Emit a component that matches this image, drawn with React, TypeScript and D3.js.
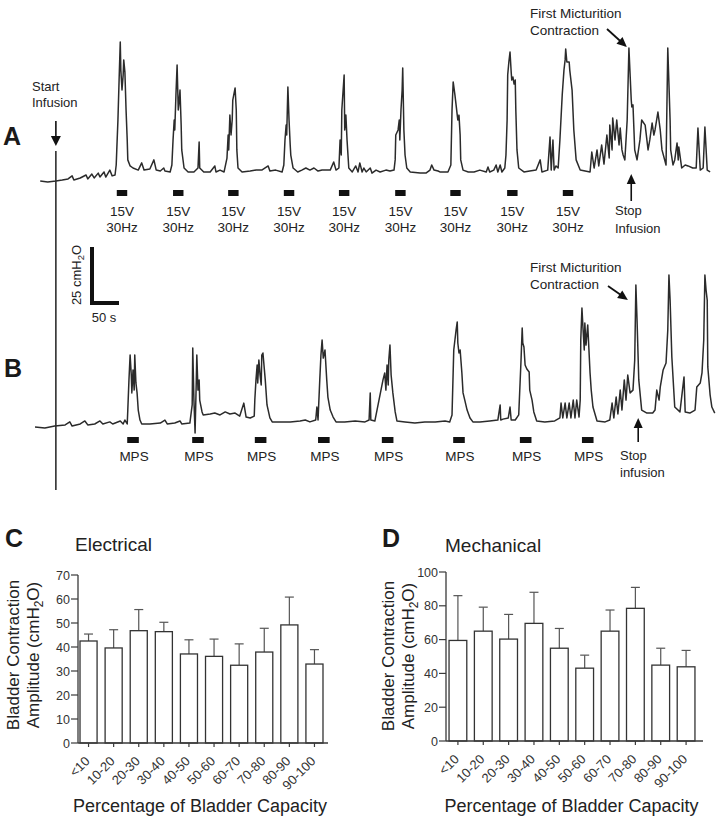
import React from "react";
import * as d3 from "d3";

const FONT = "'Liberation Sans', Arial, Helvetica, sans-serif";

// ---- Cystometry traces: [time (s), pressure (cmH2O)] ----
const traceA: [number, number][] = [
  [9,0],[22,-0.4],[36,0],[47,0.4],[57,0.9],[64,2.2],[67,0.4],[78,1.3],[88,2.6],[91,0.9],[98,3.0],[102,1.3],[109,3.4],[112,1.7],[119,3.9],[122,1.7],[129,4.7],[133,2.2],[138,2.6],
  [140,6.9],[141,13.4],[143,26.3],[145,43.5],[147,59.9],[148,47.8],[150,39.2],[152,45.7],[153,52.2],[155,47.0],[157,30.6],[159,17.7],[160,9.1],[164,6.5],[169,5.6],[178,4.7],[184,7.8],[188,4.7],[198,5.2],[205,9.1],[209,4.7],[216,4.3],[222,5.6],[224,4.3],
  [233,3.9],[236,6.9],[238,17.7],[240,26.3],[241,22.0],[243,37.1],[245,50.0],[247,30.6],[248,32.8],[250,39.2],[252,24.1],[253,13.4],[257,5.6],[264,3.9],[274,3.9],[281,5.6],[283,16.8],[284,5.6],[291,3.9],[302,3.9],[310,6.5],[312,3.9],[319,4.7],
  [326,3.9],[331,9.9],[333,19.8],[334,13.4],[336,28.4],[338,19.8],[340,26.3],[341,34.9],[345,40.1],[347,30.6],[348,13.4],[350,5.6],[357,3.9],[371,4.3],[381,4.7],[391,4.7],[402,6.5],[405,4.3],[415,4.7],[426,3.9],
  [429,6.9],[431,17.7],[433,24.1],[434,19.8],[436,40.5],[438,26.3],[440,15.5],[441,11.2],[445,5.6],[453,3.9],[460,4.7],[467,5.6],[474,4.7],[481,5.6],[488,4.3],[495,4.7],[509,4.7],[515,8.2],[519,4.7],
  [524,5.6],[526,17.7],[528,11.2],[529,30.6],[533,45.7],[534,22.0],[536,28.4],[538,17.7],[541,5.6],[547,3.9],[553,6.5],[557,3.9],[560,7.8],[564,3.9],[567,5.6],[571,3.9],[578,5.6],[581,3.4],[588,4.7],[595,3.9],[605,4.7],[612,4.3],[619,4.7],
  [621,9.1],[622,19.8],[626,22.0],[628,26.3],[629,17.7],[631,30.6],[633,39.2],[634,48.7],[636,22.0],[638,11.2],[641,5.6],[647,3.9],[664,3.4],[674,3.4],[681,4.7],[684,6.9],[688,4.7],[695,4.3],[698,3.9],[709,3.9],
  [712,3.9],[717,6.9],[719,30.6],[721,42.7],[724,37.1],[726,32.8],[728,28.4],[729,26.3],[731,28.4],[733,19.8],[734,9.1],[738,4.7],[747,3.9],[757,3.9],[767,4.7],[778,3.9],[781,6.0],[784,3.9],[791,4.7],[795,6.9],[798,3.9],[802,6.9],[805,3.9],
  [810,5.6],[812,11.2],[814,26.3],[815,45.7],[817,51.3],[819,55.6],[821,47.0],[822,43.5],[824,44.8],[826,41.8],[828,43.5],[829,30.6],[831,13.4],[834,5.6],[843,3.9],[853,4.3],[864,4.7],[871,9.1],[874,3.9],[884,4.7],[888,19.0],[890,4.7],[893,17.7],[895,4.7],[898,6.5],
  [902,5.6],[905,17.7],[909,37.1],[912,47.8],[914,52.2],[915,56.9],[917,51.3],[921,51.3],[922,47.8],[926,39.2],[929,22.0],[933,9.1],[940,4.7],[957,3.9],
  [960,12.5],[964,5.6],[969,13.4],[972,6.5],[977,15.5],[981,7.3],[986,19.8],[990,9.9],[991,24.1],[995,13.4],[996,27.2],[1000,17.7],[1003,26.3],[1007,15.5],[1009,22.8],[1012,13.4],[1014,11.2],[1017,9.1],[1021,26.3],[1024,57.3],[1028,34.9],[1029,31.9],[1031,32.8],[1034,13.4],[1038,9.1],[1043,17.7],[1046,26.3],[1052,24.1],[1057,13.4],[1060,17.7],[1064,25.0],[1067,19.8],[1069,22.0],[1074,29.7],[1078,22.0],[1081,13.4],[1088,6.9],[1091,57.3],[1095,26.3],[1096,13.4],[1100,6.9],[1103,9.1],[1107,16.4],[1109,9.1],[1110,14.7],[1115,5.6],[1121,6.9],[1126,6.5],[1134,5.6],[1140,5.6],[1143,22.8],[1147,4.7],[1152,5.6],[1155,23.3],[1159,4.7],[1164,3.9],
];

const traceB: [number, number][] = [
  [0,0],[17,-0.4],[34,0.4],[52,0.9],[60,2.2],[64,0.4],[78,1.3],[86,2.6],[91,0.9],[103,1.3],[112,2.6],[117,1.3],[129,2.2],[134,1.3],[147,2.6],[152,1.3],[155,3.0],[159,1.3],
  [160,7.3],[162,20.3],[164,31.0],[166,22.4],[167,14.7],[169,24.6],[171,15.9],[172,31.0],[174,19.0],[176,14.7],[178,7.3],[181,3.0],[184,1.3],[198,1.3],[216,1.7],[224,3.0],[228,1.3],[241,1.7],[250,2.6],[253,1.3],[267,1.7],
  [271,9.5],[272,34.0],[274,11.6],[276,-2.6],[278,19.0],[279,31.0],[281,15.9],[283,20.3],[284,11.6],[288,6.5],[290,5.2],[302,5.6],[310,6.0],[319,5.2],[328,6.5],[336,5.6],[345,6.0],[353,4.7],[360,10.3],[364,4.3],[371,3.9],[378,4.7],
  [379,11.6],[381,20.3],[383,26.7],[384,19.0],[386,28.9],[388,22.4],[390,18.1],[391,31.0],[393,31.9],[397,20.3],[400,9.5],[405,3.9],[409,2.2],[422,2.2],[440,2.2],[457,2.6],[466,3.0],[474,2.2],[484,3.0],[486,8.6],[488,3.0],
  [491,20.3],[493,31.0],[495,37.5],[497,29.7],[500,33.2],[503,20.3],[505,12.9],[509,7.3],[514,4.3],[519,2.2],[534,2.2],[552,2.6],[569,2.2],[576,3.0],[578,14.7],[579,3.0],[586,2.6],
  [600,20.3],[603,23.3],[605,15.9],[607,26.7],[609,18.1],[610,28.9],[612,35.3],[614,22.4],[617,14.7],[621,6.5],[624,2.6],[638,2.2],[655,1.7],[672,2.2],[690,2.2],[707,2.6],[715,2.2],
  [719,5.2],[722,33.2],[726,41.8],[728,45.3],[729,36.2],[731,31.9],[733,33.2],[736,23.3],[738,14.7],[741,11.6],[745,7.3],[750,3.9],[755,2.2],[767,2.2],[784,2.6],[798,3.0],[802,9.5],[803,3.0],[807,3.4],[816,3.9],[819,8.6],[821,3.0],[828,3.0],
  [834,5.2],[838,28.9],[840,42.7],[841,36.2],[843,34.5],[845,26.7],[848,25.0],[852,23.7],[853,15.9],[857,11.6],[860,6.5],[865,2.6],[879,2.2],[896,2.6],
  [905,3.9],[907,10.3],[910,3.9],[914,10.3],[917,3.9],[921,10.3],[924,3.9],[928,11.6],[931,3.9],[934,11.6],[938,4.3],
  [940,11.6],[941,37.5],[943,51.3],[945,41.8],[947,33.2],[948,44.8],[950,35.3],[953,44.0],[957,23.3],[959,15.9],[962,8.6],[969,2.6],[983,2.2],
  [991,3.0],[995,10.3],[998,3.9],[1002,12.9],[1005,5.6],[1009,15.9],[1012,7.3],[1016,20.3],[1019,11.6],[1022,22.4],[1026,14.7],[1031,15.9],[1034,28.9],[1036,61.2],[1038,46.1],[1041,20.3],[1046,7.3],[1055,6.0],[1065,6.0],[1069,7.3],[1072,15.9],[1076,11.6],[1078,17.2],[1083,24.6],[1088,27.6],[1091,41.8],[1093,65.5],[1095,54.7],[1098,30.2],[1103,8.6],[1112,6.5],[1119,21.6],[1121,6.5],[1129,6.0],[1138,7.3],[1141,17.2],[1147,19.0],[1150,23.3],[1153,37.5],[1155,65.5],[1157,59.0],[1159,54.7],[1160,25.9],[1164,13.8],[1167,8.6],[1172,6.0],
];

const stimA = [141, 238, 333, 429, 524, 621, 716, 814, 910];
const stimB = [159, 271, 379, 488, 598, 721, 836, 943];
const stimDurA = 18;
const stimDurB = 20;
const infusionStart = 36;
const firstMictA = 1024;
const stopA = 1028;
const firstMictB = 1036;
const stopB = 1040;

// ---- Bar charts ----
const categories = ["<10", "10-20", "20-30", "30-40", "40-50", "50-60", "60-70", "70-80", "80-90", "90-100"];
const elecMean = [42.5, 39.6, 46.8, 46.4, 37.1, 36.1, 32.4, 37.9, 49.2, 32.9];
const elecSem = [2.9, 7.6, 8.8, 3.9, 5.9, 7.2, 8.9, 9.9, 11.6, 6.0];
const mechMean = [59.5, 65.0, 60.3, 69.6, 54.9, 43.1, 65.0, 78.5, 44.9, 43.9];
const mechSem = [26.5, 14.2, 14.6, 18.4, 11.7, 7.7, 12.5, 12.4, 10.0, 9.7];
const elecTicks = [0, 10, 20, 30, 40, 50, 60, 70];
const mechTicks = [0, 20, 40, 60, 80, 100];

// time & pressure scales (scale bar: 50 s, 25 cmH2O)
const xT = d3.scaleLinear().domain([0, 50]).range([35, 64]);
const yA = d3.scaleLinear().domain([0, 25]).range([181, 123]);
const yB = d3.scaleLinear().domain([0, 25]).range([427, 369]);

function Arrow({ x1, y1, x2, y2, len = 10, hw = 4.5, sw = 1.6 }: any) {
  const dx = x2 - x1, dy = y2 - y1;
  const L = Math.hypot(dx, dy);
  const ux = dx / L, uy = dy / L;
  const bx = x2 - ux * len, by = y2 - uy * len;
  const px = -uy, py = ux;
  return (
    <g>
      <line x1={x1} y1={y1} x2={bx + ux} y2={by + uy} stroke="#111" strokeWidth={sw} />
      <polygon points={`${x2},${y2} ${bx + px * hw},${by + py * hw} ${bx - px * hw},${by - py * hw}`} fill="#111" />
    </g>
  );
}

function BarChart({ axisLeft, axisRight, yBottom, yTop, maxV, ticks, means, sems, bandRange, pi, po, titleX1, titleX2, titleY }: any) {
  const x = d3.scaleBand<string>().domain(categories).range(bandRange).paddingInner(pi).paddingOuter(po);
  const y = d3.scaleLinear().domain([0, maxV]).range([yBottom, yTop]);
  const bw = x.bandwidth();
  const axisCol = "#3a3a3a";
  return (
    <g fontFamily={FONT}>
      {categories.map((c, i) => {
        const x0 = x(c)!;
        const cx = x0 + bw / 2;
        const top = y(means[i]);
        const et = y(means[i] + sems[i]);
        return (
          <g key={c}>
            <line x1={cx} x2={cx} y1={top} y2={et} stroke="#555" strokeWidth={1.2} />
            <line x1={cx - 4.5} x2={cx + 4.5} y1={et} y2={et} stroke="#555" strokeWidth={1.2} />
            <rect x={x0} y={top} width={bw} height={yBottom - top} fill="#fff" stroke="#333" strokeWidth={1.3} />
            <line x1={cx} x2={cx} y1={yBottom} y2={yBottom + 4} stroke={axisCol} strokeWidth={1.2} />
            <text transform={`translate(${cx + 2},${yBottom + 19}) rotate(-45)`} textAnchor="end" fontSize={13} fill="#333">{c}</text>
          </g>
        );
      })}
      <line x1={axisLeft} x2={axisRight} y1={yBottom} y2={yBottom} stroke={axisCol} strokeWidth={1.3} />
      <line x1={axisLeft} x2={axisLeft} y1={yBottom} y2={yTop} stroke={axisCol} strokeWidth={1.3} />
      {ticks.map((t: number) => (
        <g key={t}>
          <line x1={axisLeft - 7} x2={axisLeft} y1={y(t)} y2={y(t)} stroke={axisCol} strokeWidth={1.2} />
          <text x={axisLeft - 8} y={y(t) + 4.5} textAnchor="end" fontSize={12.5} fill="#333">{t}</text>
        </g>
      ))}
      <text transform={`translate(${titleX1},${titleY}) rotate(-90)`} textAnchor="middle" fontSize={17} fill="#222">Bladder Contraction</text>
      <text transform={`translate(${titleX2},${titleY}) rotate(-90)`} textAnchor="middle" fontSize={17} fill="#222">
        Amplitude (cmH<tspan fontSize={12} dy={4}>2</tspan><tspan dy={-4}>O)</tspan>
      </text>
      <text x={(axisLeft + axisRight) / 2 - 3} y={812} textAnchor="middle" fontSize={18} fill="#222">Percentage of Bladder Capacity</text>
    </g>
  );
}

export default function App() {
  const lineA = d3.line<[number, number]>().x(d => xT(d[0])).y(d => yA(d[1]));
  const lineB = d3.line<[number, number]>().x(d => xT(d[0])).y(d => yB(d[1]));
  const sbLenY = yA(0) - yA(25);
  const sbLenX = xT(50) - xT(0);
  const txt = { fontFamily: FONT, fill: "#222" };
  return (
    <svg width={725} height={822} style={{ position: "absolute", left: 0, top: 0, background: "#fff" }}>
      <rect width={725} height={822} fill="#fff" />
      {/* Panel labels */}
      <text x={3} y={145} fontFamily={FONT} fontWeight="bold" fontSize={25} fill="#1a1a1a">A</text>
      <text x={4} y={377} fontFamily={FONT} fontWeight="bold" fontSize={25} fill="#1a1a1a">B</text>

      {/* Start infusion */}
      <text x={32} y={91} fontSize={13} {...txt}>Start</text>
      <text x={32} y={107} fontSize={13} {...txt}>Infusion</text>
      <Arrow x1={xT(infusionStart)} y1={121} x2={xT(infusionStart)} y2={146} len={10} hw={5} />
      <line x1={xT(infusionStart)} x2={xT(infusionStart)} y1={151} y2={490} stroke="#111" strokeWidth={1.4} />

      {/* Traces */}
      <path d={lineA(traceA) || ""} fill="none" stroke="#2b2b2b" strokeWidth={1.5} strokeLinejoin="round" />
      <path d={lineB(traceB) || ""} fill="none" stroke="#2b2b2b" strokeWidth={1.5} strokeLinejoin="round" />

      {/* Stim bars A */}
      {stimA.map((s, i) => {
        const x0 = xT(s), x1 = xT(s + stimDurA), cx = (x0 + x1) / 2;
        return (
          <g key={"sa" + i}>
            <rect x={x0} y={190} width={x1 - x0} height={6} fill="#111" />
            <text x={cx} y={216} textAnchor="middle" fontSize={13.5} {...txt}>15V</text>
            <text x={cx} y={232} textAnchor="middle" fontSize={13.5} {...txt}>30Hz</text>
          </g>
        );
      })}
      {/* Stim bars B */}
      {stimB.map((s, i) => {
        const x0 = xT(s), x1 = xT(s + stimDurB), cx = (x0 + x1) / 2;
        return (
          <g key={"sb" + i}>
            <rect x={x0} y={437} width={x1 - x0} height={6} fill="#111" />
            <text x={cx + 1} y={461} textAnchor="middle" fontSize={13.5} {...txt}>MPS</text>
          </g>
        );
      })}

      {/* Annotations A */}
      <text x={530} y={18} fontSize={13.5} {...txt}>First Micturition</text>
      <text x={530} y={35} fontSize={13.5} {...txt}>Contraction</text>
      <Arrow x1={607} y1={29} x2={xT(firstMictA) - 2} y2={47} len={10} hw={4.5} sw={1.8} />
      <Arrow x1={xT(stopA)} y1={201} x2={xT(stopA)} y2={174} len={10} hw={4.5} sw={1.6} />
      <text x={615} y={215} fontSize={13} {...txt}>Stop</text>
      <text x={615} y={233} fontSize={13} {...txt}>Infusion</text>

      {/* Annotations B */}
      <text x={530} y={272} fontSize={13.5} {...txt}>First Micturition</text>
      <text x={530} y={289} fontSize={13.5} {...txt}>Contraction</text>
      <Arrow x1={608} y1={286} x2={xT(firstMictB) - 8} y2={300} len={10} hw={4.5} sw={1.8} />
      <Arrow x1={xT(stopB)} y1={442} x2={xT(stopB)} y2={418} len={10} hw={4.5} sw={1.6} />
      <text x={620} y={460} fontSize={13} {...txt}>Stop</text>
      <text x={620} y={477} fontSize={13} {...txt}>infusion</text>

      {/* Scale bar */}
      <line x1={92} x2={92} y1={305} y2={305 - sbLenY} stroke="#111" strokeWidth={4} />
      <line x1={90} x2={90 + sbLenX} y1={303} y2={303} stroke="#111" strokeWidth={4} />
      <text transform="translate(81,275) rotate(-90)" textAnchor="middle" fontSize={13} {...txt}>
        25 cmH<tspan fontSize={9.5} dy={3}>2</tspan><tspan dy={-3}>O</tspan>
      </text>
      <text x={104} y={322} textAnchor="middle" fontSize={13} {...txt}>50 s</text>

      {/* Panel C */}
      <text x={5} y={547} fontFamily={FONT} fontWeight="bold" fontSize={25} fill="#1a1a1a">C</text>
      <text x={75} y={551} fontSize={19} {...txt}>Electrical</text>
      <BarChart axisLeft={78} axisRight={328} yBottom={743} yTop={575} maxV={70} ticks={elecTicks}
        means={elecMean} sems={elecSem} bandRange={[78, 325]} pi={0.32} po={0.08} titleX1={19} titleX2={39} titleY={655} />

      {/* Panel D */}
      <text x={382} y={547} fontFamily={FONT} fontWeight="bold" fontSize={25} fill="#1a1a1a">D</text>
      <text x={445} y={552} fontSize={19} {...txt}>Mechanical</text>
      <BarChart axisLeft={446} axisRight={703} yBottom={741} yTop={572} maxV={100} ticks={mechTicks}
        means={mechMean} sems={mechSem} bandRange={[446, 698]} pi={0.3} po={0.12} titleX1={394} titleX2={414} titleY={656} />
    </svg>
  );
}
